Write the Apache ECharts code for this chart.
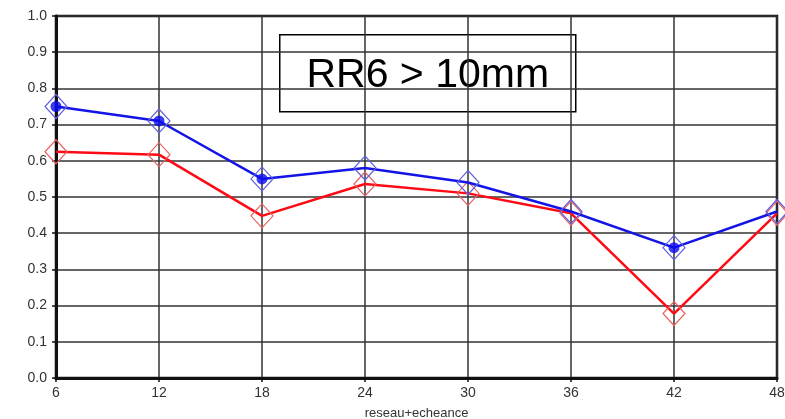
<!DOCTYPE html>
<html><head><meta charset="utf-8">
<script src="https://cdn.jsdelivr.net/npm/echarts@6/dist/echarts.min.js"></script>
<style>html,body{margin:0;padding:0;background:#fff}#c{width:785px;height:419px}</style>
</head><body><div id="c"></div>
<script>
var categories = [6, 12, 18, 24, 30, 36, 42, 48];
var blueValues = [0.75, 0.71, 0.55, 0.58, 0.54, 0.46, 0.36, 0.46];
var redValues = [0.625, 0.617, 0.448, 0.536, 0.51, 0.455, 0.178, 0.455];
var blueDotIdx = [0, 1, 2, 6];
var yTicks = [0, 0.1, 0.2, 0.3, 0.4, 0.5, 0.6, 0.7, 0.8, 0.9, 1.0];
var titleText = 'RR6 > 10mm';
var xName = 'reseau+echeance';

function pairs(v){ return categories.map(function(c,i){ return [c, v[i]]; }); }
var chart = echarts.init(document.getElementById('c'));
chart.setOption({
  animation: false,
  backgroundColor: '#fff',
  grid: { left: 56, right: 8, top: 16, bottom: 41, show: true, borderColor: '#111', borderWidth: 2.5,
    containLabel: false, outerBoundsMode: 'none' },
  xAxis: {
    type: 'value', min: 6, max: 48, interval: 6,
    name: xName, nameLocation: 'middle', nameGap: 29,
    nameTextStyle: { fontFamily: 'Liberation Sans', fontSize: 13, color: '#333' },
    axisLine: { show: true, onZero: false, lineStyle: { color: '#111', width: 3 } },
    axisTick: { show: true, length: 4, lineStyle: { color: '#111', width: 1.5 } },
    axisLabel: { fontFamily: 'Liberation Sans', fontSize: 14, color: '#333', margin: 8 },
    splitLine: { show: true, lineStyle: { color: '#333', width: 1.5 } }
  },
  yAxis: {
    type: 'value', min: 0, max: 1, interval: 0.1,
    axisLine: { show: true, lineStyle: { color: '#111', width: 3 } },
    axisTick: { show: true, length: 4, lineStyle: { color: '#111', width: 1.5 } },
    axisLabel: { fontFamily: 'Liberation Sans', fontSize: 14, color: '#333', margin: 9,
      formatter: function(v){ return v.toFixed(1); } },
    splitLine: { show: true, lineStyle: { color: '#333', width: 1.5 } }
  },
  series: [
    { type: 'line', data: pairs(redValues), symbol: 'diamond', symbolSize: [22, 24],
      lineStyle: { color: '#ff0a14', width: 2.5 },
      itemStyle: { color: 'rgba(255,255,255,0)', borderColor: '#e86060', borderWidth: 1.2 }, z: 2 },
    { type: 'line', data: pairs(blueValues), symbol: 'diamond', symbolSize: [22, 24],
      lineStyle: { color: '#1414e6', width: 2.5 },
      itemStyle: { color: 'rgba(255,255,255,0)', borderColor: '#6060e0', borderWidth: 1.2 }, z: 3 },
    { type: 'scatter', data: blueDotIdx.map(function(i){ return [categories[i], blueValues[i]]; }),
      symbol: 'circle', symbolSize: 11, itemStyle: { color: '#0a0af0' }, z: 4 }
  ],
  graphic: [{
    type: 'group', left: 279, top: 34, z: 100,
    children: [
      { type: 'rect', shape: { x: 0, y: 0, width: 296, height: 77 },
        style: { fill: '#fff', stroke: '#000', lineWidth: 1.5 } },
      { type: 'text', x: 148, y: 41,
        style: { text: titleText, fontFamily: 'Liberation Sans', fontSize: 41, fill: '#000',
          align: 'center', verticalAlign: 'middle' } }
    ]
  }]
});
</script></body></html>
